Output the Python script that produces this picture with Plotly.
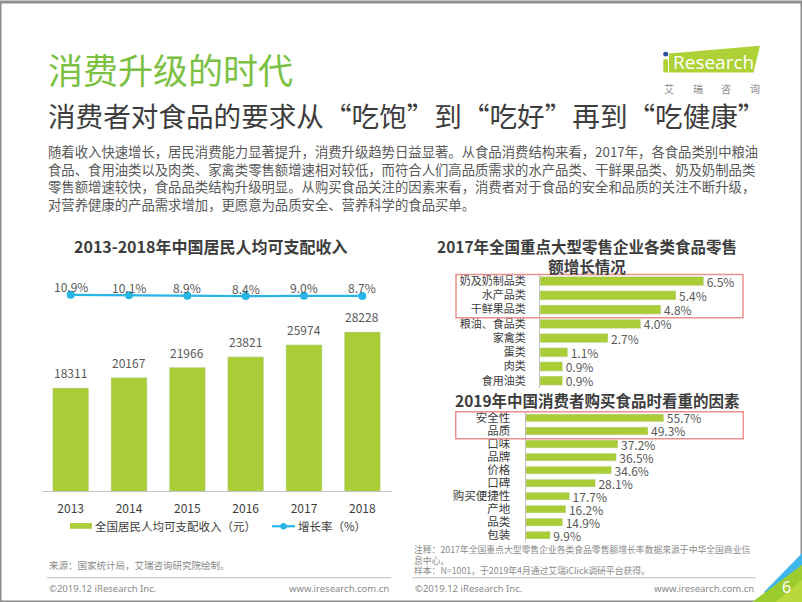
import plotly.graph_objects as go

W, H = 802, 602


def px(x):
    return x / W


def py(y):
    return 1 - y / H


# ---------------- data ----------------
years = ["2013", "2014", "2015", "2016", "2017", "2018"]
income = [18311, 20167, 21966, 23821, 25974, 28228]
growth = [10.9, 10.1, 8.9, 8.4, 9.0, 8.7]

retail_cats = ["奶及奶制品类", "水产品类", "干鲜果品类", "粮油、食品类", "家禽类", "蛋类", "肉类", "食用油类"]
retail_vals = [6.5, 5.4, 4.8, 4.0, 2.7, 1.1, 0.9, 0.9]

factor_cats = ["安全性", "品质", "口味", "品牌", "价格", "口碑", "购买便捷性", "产地", "品类", "包装"]
factor_vals = [55.7, 49.3, 37.2, 36.5, 34.6, 28.1, 17.7, 16.2, 14.9, 9.9]

title_main = "消费升级的时代"
title_sub = "消费者对食品的要求从“吃饱”到“吃好”再到“吃健康”"
body_lines = [
    "随着收入快速增长，居民消费能力显著提升，消费升级趋势日益显著。从食品消费结构来看，2017年，各食品类别中粮油",
    "食品、食用油类以及肉类、家禽类零售额增速相对较低，而符合人们高品质需求的水产品类、干鲜果品类、奶及奶制品类",
    "零售额增速较快，食品品类结构升级明显。从购买食品关注的因素来看，消费者对于食品的安全和品质的关注不断升级，",
    "对营养健康的产品需求增加，更愿意为品质安全、营养科学的食品买单。",
]
chart1_title = "2013-2018年中国居民人均可支配收入"
chart2_title = "2017年全国重点大型零售企业各类食品零售<br>额增长情况"
chart3_title = "2019年中国消费者购买食品时看重的因素"
legend_bar = "全国居民人均可支配收入（元）"
legend_line = "增长率（%）"
source_left = "来源：国家统计局，艾瑞咨询研究院绘制。"
notes_right = [
    "注释：2017年全国重点大型零售企业各类食品零售额增长率数据来源于中华全国商业信",
    "息中心。",
    "样本：N=1001，于2019年4月通过艾瑞iClick调研平台获得。",
]
footer_left = "©2019.12 iResearch Inc."
footer_right = "www.iresearch.com.cn"
logo_cn = ["艾", "瑞", "咨", "询"]
page_no = "6"

# ---------------- style ----------------
FONT = "Noto Sans CJK SC, Noto Sans, sans-serif"
GREEN = "#a9cc37"
TITLE_GREEN = "#7cc144"
BLUE = "#27b5e6"
DARK = "#3d3d3d"
GRAY = "#595959"
LIGHT = "#8a8a8a"
AXIS = "#c3c3c3"
RED = "#ec9090"

fig = go.Figure()

# Left: income bars + growth line
fig.add_trace(go.Bar(
    x=years, y=income, marker_color=GREEN, width=0.62,
    xaxis="x", yaxis="y", hoverinfo="skip",
))
fig.add_trace(go.Scatter(
    x=years, y=growth, mode="lines+markers",
    line=dict(color=BLUE, width=2.2), marker=dict(color=BLUE, size=8),
    xaxis="x", yaxis="y2", hoverinfo="skip", cliponaxis=False,
))

# Right top: retail growth
fig.add_trace(go.Bar(
    x=retail_vals, y=retail_cats, orientation="h", marker_color=GREEN, width=0.65,
    text=[f"{v:.1f}%" for v in retail_vals], textposition="outside",
    constraintext="none", cliponaxis=False,
    textfont=dict(size=12, color=GRAY, family=FONT),
    xaxis="x3", yaxis="y3", hoverinfo="skip",
))

# Right bottom: purchase factors
fig.add_trace(go.Bar(
    x=factor_vals, y=factor_cats, orientation="h", marker_color=GREEN, width=0.6,
    text=[f"{v:.1f}%" for v in factor_vals], textposition="outside",
    constraintext="none", cliponaxis=False,
    textfont=dict(size=12, color=GRAY, family=FONT),
    xaxis="x4", yaxis="y4", hoverinfo="skip",
))

annotations = []


def txt(x, y, text, size, color, xanchor="center", yanchor="middle", bold=False, family=FONT, **kw):
    annotations.append(dict(
        x=px(x), y=py(y), xref="paper", yref="paper", text=(f"<b>{text}</b>" if bold else text),
        showarrow=False, xanchor=xanchor, yanchor=yanchor,
        font=dict(size=size, color=color, family=family), **kw,
    ))


# titles & body
txt(46, 67, title_main, 35, TITLE_GREEN, xanchor="left")
txt(46, 113, title_sub, 27.6, DARK, xanchor="left")
for i, line in enumerate(body_lines):
    txt(46, 150 + i * 17.8, line, 13.35, GRAY, xanchor="left")

# chart titles
txt(210, 245, chart1_title, 16, DARK, bold=True)
txt(587, 255, chart2_title, 15.5, DARK, bold=True)
txt(597, 399, chart3_title, 15.5, DARK, bold=True)

# bar value labels and growth labels (left), placed at category index
for i, v in enumerate(income):
    annotations.append(dict(x=i, y=v, xref="x", yref="y", text=str(v), showarrow=False,
                            yshift=15, font=dict(size=12, color=GRAY, family=FONT)))
for i, g in enumerate(growth):
    annotations.append(dict(x=i, y=g, xref="x", yref="y2", text=f"{g:.1f}%", showarrow=False,
                            yshift=8, font=dict(size=12, color=GRAY, family=FONT)))

# legend texts
txt(93, 526, legend_bar, 11.5, DARK, xanchor="left")
txt(296, 526, legend_line, 11.5, DARK, xanchor="left")

# sources / notes / footers
txt(47, 565, source_left, 9.5, LIGHT, xanchor="left")
for i, line in enumerate(notes_right):
    txt(412, 549.5 + i * 10.6, line, 8.8, LIGHT, xanchor="left")
txt(47, 588, footer_left, 9.5, LIGHT, xanchor="left", family="Noto Sans, sans-serif")
txt(391, 588, footer_right, 9.5, LIGHT, xanchor="right", family="Noto Sans, sans-serif")
txt(413, 588, footer_left, 9.5, LIGHT, xanchor="left", family="Noto Sans, sans-serif")
txt(756, 588, footer_right, 9.5, LIGHT, xanchor="right", family="Noto Sans, sans-serif")

# logo text
txt(713, 60, "Research", 19, "white", family="Open Sans, Noto Sans, sans-serif")
for i, ch in enumerate(logo_cn):
    txt(669 + i * 28.5, 87, ch, 10, LIGHT)

# page number
txt(786, 587, page_no, 16, "white", family="Noto Sans, sans-serif")

shapes = []


def rect(x0, y0, x1, y1, fill=None, line_color=None, lw=0):
    shapes.append(dict(type="rect", xref="paper", yref="paper",
                       x0=px(x0), x1=px(x1), y0=py(y1), y1=py(y0),
                       fillcolor=fill if fill else "rgba(0,0,0,0)",
                       line=dict(color=line_color if line_color else "rgba(0,0,0,0)", width=lw)))


def poly(points, fill):
    d = "M " + " L ".join(f"{px(a):.5f},{py(b):.5f}" for a, b in points) + " Z"
    shapes.append(dict(type="path", xref="paper", yref="paper", path=d,
                       fillcolor=fill, line=dict(width=0)))


# page border
shapes.append(dict(type="rect", xref="paper", yref="paper", x0=0, x1=1, y0=0, y1=1,
                   line=dict(color="#8c8c8c", width=3), fillcolor="rgba(0,0,0,0)", layer="above"))

# red highlight boxes
rect(456, 273.3, 743, 316.7, line_color=RED, lw=1.5)
rect(455.7, 411, 743.3, 438.3, line_color=RED, lw=1.5)

# legend icons
rect(70, 522.8, 92, 528.5, fill=GREEN)
shapes.append(dict(type="line", xref="paper", yref="paper", x0=px(272), x1=px(295), y0=py(526), y1=py(526),
                   line=dict(color=BLUE, width=2.2)))
shapes.append(dict(type="circle", xref="paper", yref="paper", x0=px(280.3), x1=px(286.7), y0=py(529.2), y1=py(522.8),
                   fillcolor=BLUE, line=dict(width=0)))

# separators
shapes.append(dict(type="line", xref="paper", yref="paper", x0=px(47), x1=px(391), y0=py(577.7), y1=py(577.7),
                   line=dict(color="#bdbdbd", width=1)))
shapes.append(dict(type="line", xref="paper", yref="paper", x0=px(412), x1=px(756), y0=py(577.7), y1=py(577.7),
                   line=dict(color="#bdbdbd", width=1)))

# logo graphics
poly([(669, 51.7), (760, 44), (753.5, 70.7), (669, 70.7)], "#add136")
rect(663.3, 57.5, 668, 70.7, fill="#add136")
shapes.append(dict(type="circle", xref="paper", yref="paper", x0=px(663.2), x1=px(668.2), y0=py(54.8), y1=py(49.8),
                   fillcolor="#2c50a0", line=dict(width=0)))

# corner decoration
poly([(764, 592), (802, 553), (802, 602), (770, 602)], "#3fb6e8")
poly([(752, 602), (802, 565), (802, 602)], "#9ccb2e")
poly([(776, 602), (802, 580), (802, 602)], "#b9d83c")

fig.update_layout(
    width=W, height=H, margin=dict(l=0, r=0, t=0, b=0),
    paper_bgcolor="white", plot_bgcolor="rgba(0,0,0,0)",
    showlegend=False, barmode="overlay",
    font=dict(family=FONT, color=DARK),
    annotations=annotations, shapes=shapes,
    xaxis=dict(domain=[px(41.5), px(391.5)], anchor="y", type="category", range=[-0.5, len(years) - 0.5],
               showline=True, linecolor=AXIS, linewidth=1.2, ticks="", showgrid=False, zeroline=False,
               ticklabelstandoff=6, tickfont=dict(size=12, color=DARK, family=FONT), fixedrange=True),
    yaxis=dict(domain=[py(491), py(280)], range=[0, 37226], visible=False, fixedrange=True),
    yaxis2=dict(overlaying="y", anchor="x", range=[-363, 37], visible=False, fixedrange=True),
    xaxis3=dict(domain=[px(540), px(743)], anchor="y3", range=[0, 8.06], visible=False, fixedrange=True),
    yaxis3=dict(domain=[py(387.15), py(272.85)], anchor="x3", type="category", autorange="reversed",
                showline=True, linecolor=AXIS, linewidth=1.2, ticks="", showgrid=False, ticklabelstandoff=11,
                tickmode="array", tickvals=retail_cats,
                tickfont=dict(size=11, color=DARK, family=FONT), fixedrange=True),
    xaxis4=dict(domain=[px(525.7), px(743)], anchor="y4", range=[0, 87.6], visible=False, fixedrange=True),
    yaxis4=dict(domain=[py(541.5), py(410.8)], anchor="x4", type="category", autorange="reversed",
                showline=True, linecolor=AXIS, linewidth=1.2, ticks="", showgrid=False, ticklabelstandoff=12,
                tickmode="array", tickvals=factor_cats,
                tickfont=dict(size=11.5, color=DARK, family=FONT), fixedrange=True),
)

fig.write_html("out.html", config={"displayModeBar": False},
               post_script="document.body.style.margin='0';document.body.style.overflow='hidden';")
